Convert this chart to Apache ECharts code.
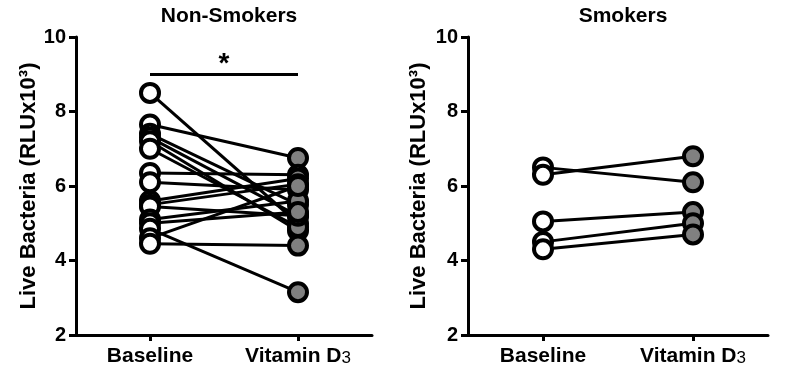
<!DOCTYPE html>
<html><head><meta charset="utf-8">
<script src="https://cdn.jsdelivr.net/npm/echarts@6/dist/echarts.min.js"></script>
<style>html,body{margin:0;padding:0;background:#fff}#c{width:788px;height:387px}</style>
</head><body><div id="c"></div>
<script>
var categories = ['Baseline', 'Vitamin D3'];
var yTicks = [2, 4, 6, 8, 10];
var nsBaseline = [8.5, 7.65, 7.4, 7.3, 7.2, 7.0, 6.35, 6.1, 5.6, 5.5, 5.45, 5.1, 5.0, 4.85, 4.6, 4.45];
var nsVitamin  = [5.0, 6.75, 5.5, 5.2, 4.8, 4.9, 6.3, 5.9, 6.2, 6.05, 5.2, 5.6, 5.3, 3.15, 6.0, 4.4];
var smBaseline = [6.5, 6.3, 5.05, 4.5, 4.3];
var smVitamin  = [6.1, 6.8, 5.3, 5.0, 4.7];
var sigLevel = 9.0;

var FONT = 'Liberation Sans, Arial, sans-serif';
var chart = echarts.init(document.getElementById('c'), null, {renderer: 'canvas'});

function xAxis(gi) {
  return {
    type: 'category', gridIndex: gi, data: categories, boundaryGap: true,
    axisLine: {lineStyle: {color: '#000', width: 3}},
    axisTick: {show: true, length: 6, alignWithLabel: true, interval: 0, lineStyle: {color: '#000', width: 3}},
    axisLabel: {
      interval: 0, hideOverlap: false,
      margin: 11, color: '#000', fontFamily: FONT, fontSize: 21, fontWeight: 'bold',
      formatter: function (v) { return v === 'Vitamin D3' ? '{b|Vitamin D}{s|3}' : '{b|' + v + '}'; },
      rich: {
        b: {fontFamily: FONT, fontSize: 21, fontWeight: 'bold', color: '#000'},
        s: {fontFamily: FONT, fontSize: 17, fontWeight: 'normal', color: '#000', padding: [4, 0, 0, 0]}
      }
    }
  };
}
function yAxis(gi, gap) {
  return {
    type: 'value', gridIndex: gi, min: 2, max: 10, interval: 2,
    name: 'Live Bacteria (RLUx10³)', nameLocation: 'middle', nameGap: gap, nameRotate: 90,
    nameTextStyle: {fontFamily: FONT, fontSize: 22, fontWeight: 'bold', color: '#000'},
    axisLine: {show: true, lineStyle: {color: '#000', width: 3}},
    axisTick: {show: true, length: 7, lineStyle: {color: '#000', width: 3}},
    axisLabel: {margin: 10, color: '#000', fontFamily: FONT, fontSize: 20, fontWeight: 'bold'},
    splitLine: {show: false}
  };
}

var series = [];
function addPairs(gi, base, vit) {
  for (var i = 0; i < base.length; i++) {
    series.push({
      type: 'line', xAxisIndex: gi, yAxisIndex: gi, data: [base[i], vit[i]],
      showSymbol: false, symbol: 'none', silent: true, z: 2,
      lineStyle: {color: '#000', width: 3}
    });
  }
  series.push({
    type: 'scatter', xAxisIndex: gi, yAxisIndex: gi, z: 5,
    data: base.map(function (v) { return [0, v]; }),
    symbolSize: 18, itemStyle: {color: '#fff', borderColor: '#000', borderWidth: 4, opacity: 1}
  });
  series.push({
    type: 'scatter', xAxisIndex: gi, yAxisIndex: gi, z: 5,
    data: vit.map(function (v) { return [1, v]; }),
    symbolSize: 18, itemStyle: {color: '#808080', borderColor: '#000', borderWidth: 4, opacity: 1}
  });
}
addPairs(0, nsBaseline, nsVitamin);
addPairs(1, smBaseline, smVitamin);
series.push({
  type: 'line', xAxisIndex: 0, yAxisIndex: 0, data: [], symbol: 'none',
  markLine: {
    silent: true, symbol: ['none', 'none'],
    lineStyle: {color: '#000', width: 3, type: 'solid'},
    label: {show: true, position: 'middle', formatter: '*', color: '#000', fontFamily: FONT, fontSize: 28, fontWeight: 'bold', distance: -4},
    data: [[{coord: [0, sigLevel]}, {coord: [1, sigLevel]}]]
  }
});

chart.setOption({
  animation: false,
  backgroundColor: '#fff',
  title: [
    {text: 'Non-Smokers', left: 224, top: 1, textAlign: 'center',
     textStyle: {fontFamily: FONT, fontSize: 21, fontWeight: 'bold', color: '#000'}},
    {text: 'Smokers', left: 618, top: 1, textAlign: 'center',
     textStyle: {fontFamily: FONT, fontSize: 21, fontWeight: 'bold', color: '#000'}}
  ],
  grid: [
    {left: 76, top: 37, width: 296, height: 298},
    {left: 468, top: 37, width: 300, height: 298}
  ],
  xAxis: [xAxis(0), xAxis(1)],
  yAxis: [yAxis(0, 35), yAxis(1, 38)],
  series: series
});
</script>
</body></html>
